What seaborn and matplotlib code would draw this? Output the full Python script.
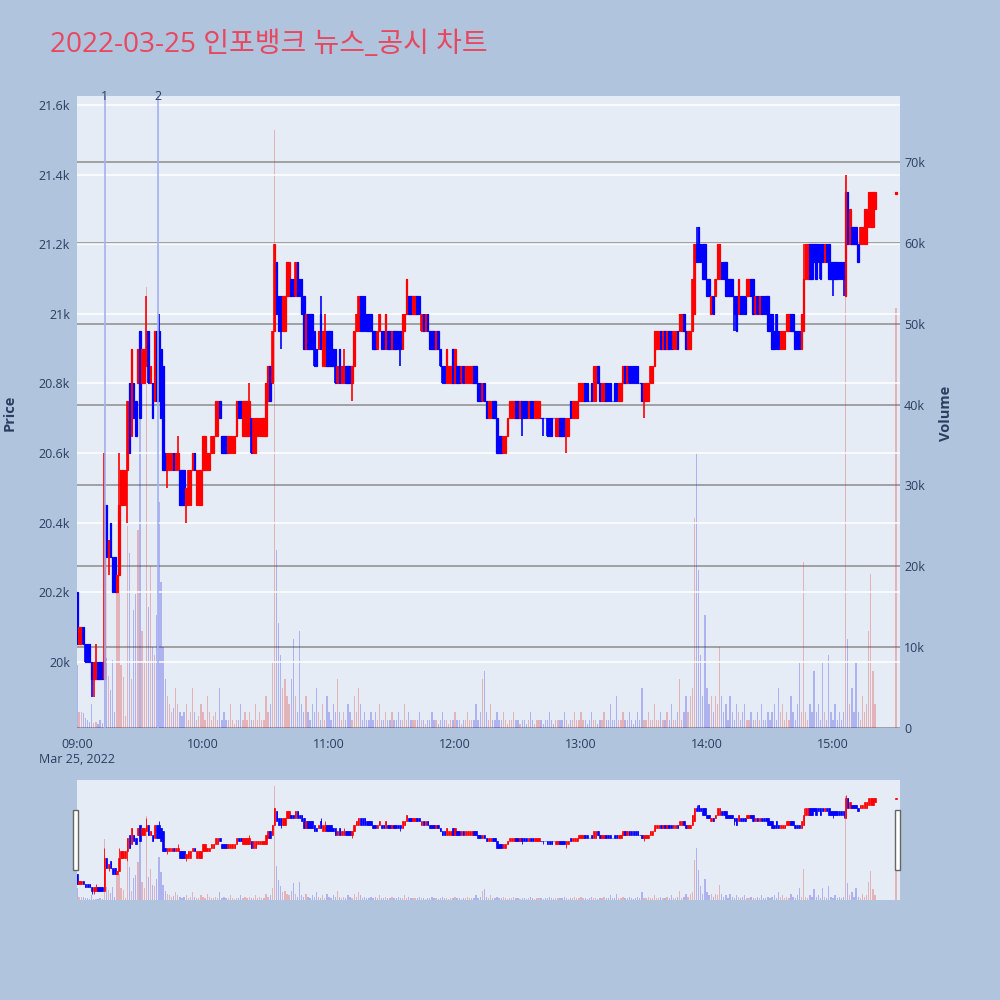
import matplotlib
matplotlib.use('Agg')
import matplotlib.pyplot as plt
import matplotlib.transforms as mtransforms
from matplotlib.patches import Rectangle
import pandas as pd
import seaborn as sns

# minutes after 09:00 (one candle per minute, 15:30 closing print at 390)
minutes = list(range(381)) + [390]

opens = [
    20200, 20050, 20050, 20100, 20050, 20050, 20050, 20000, 19950, 19950,
    20000, 20000, 20000, 19950, 20450, 20300, 20400, 20300, 20300, 20200,
    20250, 20450, 20450, 20450, 20550, 20800, 20650, 20800, 20750, 20800,
    20950, 20800, 20800, 20850, 20950, 20800, 20800, 20750, 20950, 20950,
    20900, 20850, 20600, 20550, 20550, 20550, 20600, 20550, 20550, 20550,
    20550, 20550, 20450, 20450, 20450, 20550, 20600, 20450, 20450, 20450,
    20550, 20550, 20550, 20550, 20600, 20600, 20650, 20650, 20750, 20650,
    20650, 20650, 20600, 20600, 20600, 20600, 20650, 20750, 20750, 20650,
    20650, 20650, 20650, 20700, 20600, 20600, 20650, 20650, 20650, 20650,
    20650, 20750, 20850, 20800, 20950, 21150, 21050, 21050, 20950, 20950,
    21050, 21050, 21100, 21100, 21050, 21150, 21100, 21100, 21050, 20900,
    21000, 21000, 21000, 20950, 20900, 20900, 21000, 20850, 20850, 20950,
    20950, 20950, 20900, 20900, 20800, 20900, 20800, 20800, 20850, 20850,
    20850, 20800, 20850, 20950, 20950, 21050, 21050, 21050, 21000, 21000,
    21000, 20950, 20950, 20900, 20950, 20950, 20950, 20900, 20950, 20950,
    20900, 20950, 20950, 20950, 20950, 20900, 20950, 21000, 21050, 21050,
    21000, 21000, 21050, 21050, 20950, 21000, 20950, 21000, 20950, 20950,
    20950, 20900, 20950, 20900, 20850, 20850, 20800, 20800, 20800, 20900,
    20800, 20850, 20850, 20800, 20850, 20800, 20800, 20800, 20800, 20850,
    20850, 20800, 20800, 20750, 20800, 20750, 20700, 20700, 20750, 20750,
    20700, 20650, 20650, 20600, 20600, 20650, 20700, 20700, 20700, 20750,
    20750, 20700, 20750, 20750, 20750, 20700, 20750, 20750, 20700, 20700,
    20700, 20700, 20700, 20700, 20700, 20700, 20700, 20700, 20650, 20650,
    20700, 20700, 20700, 20650, 20650, 20750, 20700, 20700, 20700, 20750,
    20750, 20750, 20800, 20800, 20750, 20800, 20750, 20750, 20850, 20800,
    20750, 20750, 20800, 20800, 20800, 20750, 20800, 20800, 20750, 20750,
    20800, 20850, 20800, 20850, 20850, 20850, 20850, 20850, 20800, 20800,
    20750, 20750, 20750, 20800, 20800, 20850, 20900, 20900, 20950, 20900,
    20950, 20900, 20950, 20950, 20900, 20900, 20950, 20950, 20950, 21000,
    20950, 20900, 20900, 20950, 21000, 21200, 21250, 21200, 21200, 21200,
    21100, 21100, 21000, 21050, 21050, 21100, 21100, 21150, 21150, 21150,
    21100, 21100, 21100, 21050, 21050, 21000, 21050, 21050, 21050, 21050,
    21050, 21100, 21100, 21000, 21050, 21000, 21050, 21050, 21050, 21050,
    21000, 21000, 20950, 21000, 20950, 20900, 20900, 20900, 20950, 20950,
    21000, 21000, 20950, 20950, 20950, 20900, 20950, 21100, 21100, 21200,
    21200, 21200, 21200, 21200, 21200, 21200, 21150, 21200, 21200, 21150,
    21150, 21150, 21150, 21150, 21150, 21150, 21050, 21350, 21200, 21250,
    21250, 21250, 21200, 21200, 21200, 21200, 21200, 21250, 21250, 21250,
    21300, 21345,
]

closes = [
    20050, 20100, 20100, 20050, 20000, 20000, 20000, 19950, 20000, 20000,
    19950, 19950, 19950, 20450, 20300, 20350, 20300, 20200, 20200, 20250,
    20450, 20550, 20550, 20550, 20750, 20600, 20900, 20700, 20650, 20900,
    20700, 20900, 20900, 20950, 20800, 20850, 20700, 20950, 20750, 20750,
    20700, 20550, 20550, 20600, 20600, 20600, 20550, 20600, 20600, 20450,
    20450, 20450, 20500, 20550, 20550, 20600, 20550, 20550, 20550, 20550,
    20650, 20650, 20600, 20600, 20650, 20650, 20750, 20750, 20700, 20600,
    20600, 20600, 20650, 20650, 20650, 20650, 20750, 20700, 20700, 20750,
    20750, 20750, 20750, 20600, 20700, 20700, 20700, 20700, 20700, 20700,
    20800, 20850, 20750, 20950, 21200, 21000, 20950, 20950, 21050, 21050,
    21150, 21150, 21050, 21050, 21150, 21050, 21050, 21000, 20900, 21000,
    20900, 20900, 20900, 20850, 20850, 20950, 20900, 20950, 20950, 20850,
    20850, 20850, 20850, 20800, 20850, 20800, 20850, 20850, 20800, 20800,
    20800, 20850, 20950, 21000, 21050, 20950, 20950, 20950, 20950, 20950,
    20950, 20900, 20900, 20950, 21000, 20900, 20900, 21000, 20900, 20900,
    20950, 20900, 20900, 20900, 20900, 21000, 21000, 21100, 21000, 21000,
    21050, 21050, 21000, 21000, 21000, 20950, 21000, 20950, 20900, 20900,
    20900, 20950, 20900, 20850, 20800, 20800, 20900, 20850, 20850, 20800,
    20900, 20800, 20800, 20850, 20800, 20850, 20850, 20850, 20850, 20800,
    20800, 20750, 20750, 20800, 20750, 20700, 20750, 20750, 20700, 20700,
    20600, 20600, 20600, 20650, 20650, 20700, 20750, 20750, 20750, 20700,
    20700, 20750, 20700, 20700, 20700, 20750, 20700, 20700, 20750, 20750,
    20750, 20700, 20700, 20700, 20650, 20650, 20650, 20700, 20700, 20700,
    20650, 20650, 20650, 20700, 20700, 20700, 20750, 20750, 20750, 20800,
    20800, 20800, 20750, 20750, 20750, 20750, 20850, 20850, 20800, 20750,
    20800, 20800, 20750, 20750, 20750, 20750, 20750, 20750, 20800, 20800,
    20850, 20800, 20850, 20800, 20800, 20800, 20800, 20800, 20800, 20750,
    20800, 20800, 20800, 20850, 20850, 20950, 20950, 20950, 20900, 20950,
    20900, 20950, 20900, 20900, 20950, 20950, 20900, 21000, 21000, 20950,
    20900, 20950, 20950, 21100, 21200, 21150, 21150, 21150, 21100, 21100,
    21050, 21050, 21050, 21000, 21100, 21200, 21200, 21100, 21100, 21050,
    21050, 21050, 21050, 21000, 20950, 21100, 21000, 21000, 21000, 21100,
    21100, 21050, 21000, 21050, 21000, 21050, 21000, 21000, 21000, 20950,
    20950, 20900, 20900, 20900, 20900, 20950, 20950, 20950, 21000, 21000,
    20950, 20950, 20900, 20900, 20900, 21000, 21100, 21200, 21200, 21100,
    21100, 21150, 21100, 21150, 21100, 21150, 21200, 21150, 21100, 21100,
    21100, 21100, 21100, 21100, 21100, 21100, 21350, 21200, 21300, 21200,
    21200, 21200, 21150, 21250, 21250, 21300, 21300, 21350, 21350, 21350,
    21350, 21350,
]

# wicks that stick out past the body (minute: price)
wick_hi = {9: 20050, 13: 20600, 20: 20600, 33: 21050, 39: 21000, 48: 20650,
           82: 20800, 116: 21050, 118: 21000, 127: 20900, 295: 21250,
           346: 21200, 366: 21400}
wick_lo = {7: 19900, 8: 19900, 15: 20250, 24: 20400, 43: 20500, 52: 20400,
           97: 20900, 131: 20750, 154: 20850, 212: 20650, 222: 20650,
           233: 20600, 270: 20700, 313: 20950, 360: 21050, 365: 21050,
           379: 21250}

# volume in thousands of shares
volume_k = [
    7.8, 2.0, 2.0, 1.8, 1.2, 1.0, 0.8, 3.0, 0.6, 0.8, 0.5, 1.0, 0.6,
    40, 8.6, 6.4, 4.7, 8.4, 2.0, 17, 16.8, 7.8, 6.3, 1.5, 25, 21.6, 6, 14.6,
    16.6, 24.5, 39, 12, 8, 54.5, 15, 20, 10, 9, 14, 28, 18,
    10, 6, 4, 3, 2, 2.5, 5, 3, 2, 1.5, 2, 3, 1, 2, 5, 2, 1, 1.5, 3, 2,
    1, 4, 2, 1, 1.5, 2, 1, 5, 1, 2, 1, 1, 3, 1, 0.5, 1, 1, 3, 1, 2,
    1, 2, 1, 1, 3, 1, 2, 1, 1, 4, 2, 3, 8,
    74,
    22, 13, 9, 5, 6, 4, 3, 6, 11, 4, 2, 12, 3, 2, 4, 2, 1, 3, 2, 5, 2, 1,
    3, 1, 4, 2, 1, 3, 2, 6, 2, 1, 2, 1, 3, 2,
    1, 4, 2, 5, 3, 1, 2, 1, 1, 2, 1, 2, 1, 3, 1, 1, 2, 1, 1, 2, 1, 1, 2, 1,
    1, 3, 1, 2, 1, 1,
    1, 1, 2, 1, 1, 0.5, 1, 1, 2, 1, 1, 0.5, 1, 2, 1, 1, 0.5, 1, 1, 2,
    1, 1, 0.5, 1, 1, 2, 1, 1, 1, 3, 1, 2, 6, 7, 2, 1, 3, 1, 1, 2,
    1, 1, 2, 1, 0.5, 1, 1, 2, 1, 1, 0.5, 1, 1, 0.5, 1, 2, 1, 0.5, 1, 1,
    1, 0.5, 1, 1, 2, 1, 0.5, 1, 1, 1, 1, 2, 1, 0.5, 1, 1, 2, 1, 1, 2,
    1, 1, 0.5, 1, 2, 1, 1, 0.5, 1, 1, 2, 1, 1, 3, 1, 1, 4, 1, 1, 2,
    1, 1, 2, 1, 0.5, 1, 2, 1, 5, 1, 1, 2, 1, 1, 3, 1, 1, 2, 1, 1,
    2, 1, 3, 1, 1, 2, 6, 1, 2, 4,
    2, 4, 5, 26, 34, 19.5, 9, 4, 14, 5, 3, 4, 2, 4, 3, 10, 4, 2, 3, 1,
    4, 2, 1, 3, 2, 1, 2, 3, 1, 1, 2, 1, 1, 2, 1, 3, 1, 1, 2, 1,
    2, 3, 1, 5, 2, 3, 1, 2, 1, 4, 2, 1, 3, 8, 2, 20.5, 2, 1, 3, 2,
    7, 2, 3, 1, 8, 2, 1, 9, 2, 1, 3, 1, 2, 1, 2, 68, 11, 3, 5, 2,
    8, 2, 1, 4, 2, 3, 12, 19, 7, 3,
    52,
]

news_minutes = [13.3, 38.6]
news_labels = ['1', '2']

price_ticks = [20000, 20200, 20400, 20600, 20800, 21000, 21200, 21400, 21600]
price_labels = ['20k', '20.2k', '20.4k', '20.6k', '20.8k', '21k', '21.2k', '21.4k', '21.6k']
vol_ticks = [0, 10, 20, 30, 40, 50, 60, 70]
vol_labels = ['0', '10k', '20k', '30k', '40k', '50k', '60k', '70k']
time_ticks = [0, 60, 120, 180, 240, 300, 360]
time_labels = ['09:00\nMar 25, 2022', '10:00', '11:00', '12:00', '13:00', '14:00', '15:00']

UP = '#FF0000'
DOWN = '#0000FF'
BG = '#B0C4DE'
PLOT_BG = '#E5ECF6'
FONT_COLOR = '#2a3f5f'

df = pd.DataFrame({'minute': minutes, 'open': opens, 'close': closes, 'vol': volume_k})
df['high'] = [max(o, c, wick_hi.get(m, 0)) for m, o, c in zip(df.minute, df.open, df.close)]
df['low'] = [min(o, c, wick_lo.get(m, 99999)) for m, o, c in zip(df.minute, df.open, df.close)]
df['dir'] = ['up' if c > o else 'down' for o, c in zip(df.open, df.close)]
df['color'] = [UP if d == 'up' else DOWN for d in df['dir']]

sns.set_theme(style='white')
plt.rcParams['font.family'] = ['Open Sans', 'Noto Sans CJK KR', 'DejaVu Sans']

XLIM = (0, 391.9)
PLIM = (19810, 21626)
VLIM = (0, 78.16)


def draw(ax_v, ax_p, small=False):
    sns.barplot(data=df, x='minute', y='vol', hue='dir',
                palette={'up': UP, 'down': DOWN}, native_scale=True,
                dodge=False, width=0.6, alpha=0.28, errorbar=None,
                legend=False, linewidth=0, ax=ax_v)
    body_bottom = [min(o, c) for o, c in zip(df.open, df.close)]
    body_height = [abs(c - o) for o, c in zip(df.open, df.close)]
    ax_p.vlines(df.minute, df.low, df.high, colors=df.color,
                linewidth=0.6 if small else 1.2)
    ax_p.bar(df.minute, body_height, bottom=body_bottom, width=0.75,
             color=df.color, edgecolor=df.color,
             linewidth=0.5 if small else 0.9)
    for a in (ax_v, ax_p):
        a.set_xlim(*XLIM)
        a.set_xlabel('')
        a.set_ylabel('')
        for s in a.spines.values():
            s.set_visible(False)
    ax_v.set_ylim(*VLIM)
    ax_p.set_ylim(*PLIM)
    ax_v.set_facecolor(PLOT_BG)
    ax_p.patch.set_alpha(0)


fig = plt.figure(figsize=(10, 10), dpi=100, facecolor=BG)

# main chart
rect = [0.077, 0.272, 0.823, 0.632]
ax_v = fig.add_axes(rect)
ax_p = fig.add_axes(rect, sharex=ax_v)
draw(ax_v, ax_p)

ax_v.yaxis.tick_right()
ax_v.set_yticks(vol_ticks)
ax_v.set_yticklabels(vol_labels)
ax_v.grid(axis='y', color='#8c8c8c', linewidth=1.1)
ax_v.grid(axis='x', visible=False)
ax_v.tick_params(axis='y', length=0, pad=3, labelsize=9, labelcolor=FONT_COLOR)
ax_v.tick_params(axis='x', length=0, labelbottom=False)

ax_p.set_yticks(price_ticks)
ax_p.set_yticklabels(price_labels)
ax_p.grid(axis='y', color='white', linewidth=1.1)
ax_p.grid(axis='x', visible=False)
ax_p.set_xticks(time_ticks)
ax_p.set_xticklabels(time_labels)
ax_p.tick_params(axis='y', length=0, pad=5, labelsize=9, labelcolor=FONT_COLOR,
                 left=True, labelleft=True, right=False, labelright=False)
ax_p.tick_params(axis='x', length=0, pad=7, labelsize=9, labelcolor=FONT_COLOR,
                 labelbottom=True)
ax_p.set_axisbelow(True)

# news markers
trans = mtransforms.blended_transform_factory(ax_p.transData, ax_p.transAxes)
for nm, nl in zip(news_minutes, news_labels):
    ax_p.axvline(nm, color='#A3B2F2', linewidth=1.2, zorder=3)
    ax_p.text(nm, 0.999, nl, transform=trans, ha='center', va='center',
              fontsize=9, color=FONT_COLOR)

# range slider
srect = [0.077, 0.100, 0.823, 0.120]
sax_v = fig.add_axes(srect)
sax_p = fig.add_axes(srect, sharex=sax_v)
draw(sax_v, sax_p, small=True)
for a in (sax_v, sax_p):
    a.set_xticks([])
    a.set_yticks([])
    a.grid(False)
for hx in (0.073, 0.895):
    fig.patches.append(Rectangle((hx, 0.130), 0.005, 0.060, transform=fig.transFigure,
                                 facecolor='white', edgecolor='#666666', linewidth=1))

fig.text(0.050, 0.955, '2022-03-25 인포뱅크 뉴스_공시 차트', fontsize=20.2,
         color='#E8485F', ha='left', va='center')
fig.text(0.010, 0.587, 'Price', rotation=90, ha='center', va='center',
         fontsize=10.5, fontweight='bold', color=FONT_COLOR)
fig.text(0.946, 0.587, 'Volume', rotation=90, ha='center', va='center',
         fontsize=10.5, fontweight='bold', color=FONT_COLOR)

fig.savefig('out.png', dpi=100, facecolor=BG)
